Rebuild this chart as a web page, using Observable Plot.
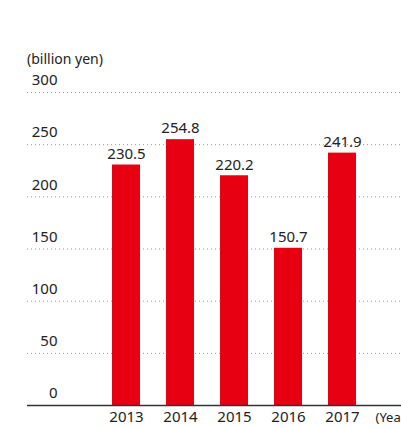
<!DOCTYPE html>
<html>
<head>
<meta charset="utf-8">
<script src="https://cdn.jsdelivr.net/npm/d3@7"></script>
<script src="https://cdn.jsdelivr.net/npm/@observablehq/plot@0.6"></script>
<style>
  html, body { margin: 0; padding: 0; background: #fff; overflow: hidden; }
  #unit { font-family: "Noto Sans", sans-serif; font-size: 14px; line-height: 18px; color: #222; margin: 50px 0 0 27px; height: 18px; }
</style>
</head>
<body>
<div id="unit">(billion yen)</div>
<div id="chart"></div>
<script>
const years = ["2013", "2014", "2015", "2016", "2017"];
const values = [230.5, 254.8, 220.2, 150.7, 241.9];
const yTicks = [0, 50, 100, 150, 200, 250, 300];
const unitLabel = "(billion yen)";
const xTitle = "(Year)";

const data = years.map((y, i) => ({year: y, value: values[i]}));
const font = "'Noto Sans', sans-serif";

const chart = Plot.plot({
  width: 401,
  height: 360,
  marginTop: 24,
  marginBottom: 23,
  marginLeft: 27,
  marginRight: 0,
  style: {fontFamily: font, fontSize: "15px", color: "#222", background: "white"},
  x: {domain: years, range: [110, 357], paddingInner: 0.49, paddingOuter: 0, axis: null},
  y: {domain: [0, 300], axis: null},
  marks: [
    Plot.ruleY(yTicks.filter(d => d > 0), {stroke: "#9a9a9a", strokeWidth: 1, strokeDasharray: "1,3"}),
    Plot.barY(data, {x: "year", y: "value", fill: "#e60012"}),
    Plot.ruleY([0], {stroke: "#333", strokeWidth: 1.5}),
    Plot.text(yTicks, {y: d => d, text: d => String(d), frameAnchor: "left", textAnchor: "end", dx: 30, dy: -12, fill: "#222", fontSize: 15}),
    Plot.text(data, {x: "year", y: "value", text: d => d.value.toFixed(1), dy: -11, fill: "#222", fontSize: 15}),
    Plot.text(years, {x: d => d, text: d => d, frameAnchor: "bottom", dy: 16, fill: "#222", fontSize: 15}),
    Plot.text([xTitle], {text: d => d, frameAnchor: "bottom-right", textAnchor: "start", dx: -26, dy: 16, fill: "#222", fontSize: 13})
  ]
});
document.getElementById("chart").appendChild(chart);
</script>
</body>
</html>
